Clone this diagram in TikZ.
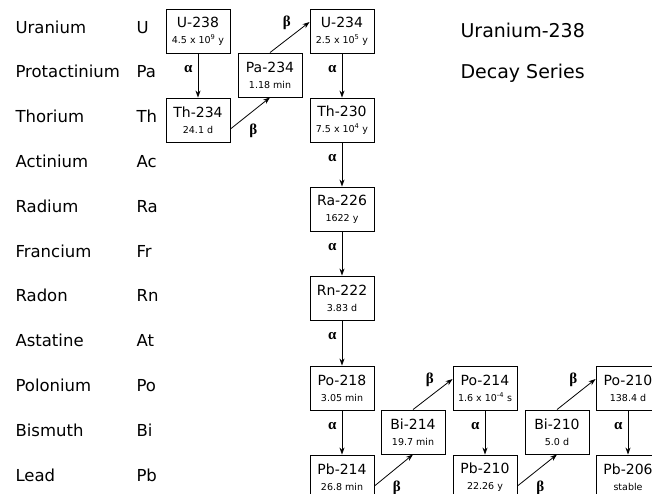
\documentclass[tikz,border=0pt]{standalone}
\usepackage{fontspec}
\setmainfont{DejaVu Sans}
\newfontfamily\greekfont{Liberation Serif}
\usetikzlibrary{arrows.meta, calc}
\newcommand\isoname{\fontsize{14}{15}\selectfont}
\newcommand\isolife{\fontsize{9.5}{10}\selectfont}
\newcommand\iso[2]{{\isoname #1}\\[4pt]{\isolife #2}}
\newcommand\alp{{\greekfont\bfseries α}}
\newcommand\bet{{\greekfont\bfseries β}}
\tikzset{
  isobox/.style={draw, line width=0.9pt, minimum width=64pt, minimum height=44pt,
                 inner sep=0pt, align=center},
  decay/.style={-{Stealth[length=7pt, width=5pt]}, line width=0.8pt},
  greek/.style={font=\fontsize{15}{15}\selectfont, inner sep=2pt},
  elname/.style={anchor=base west, font=\fontsize{16.5}{18}\selectfont},
}

\begin{document}
\begin{tikzpicture}[x=1pt, y=-1pt]
    \useasboundingbox (0,0) rectangle (652,493);

    % ─── Element column (left) ─────────────────────────────────────────
    \foreach \nm/\sym [count=\k from 0] in {Uranium/U, Protactinium/Pa, Thorium/Th,
        Actinium/Ac, Radium/Ra, Francium/Fr, Radon/Rn, Astatine/At, Polonium/Po,
        Bismuth/Bi, Lead/Pb}{
      \node[elname] (el\k)  at (12,  {33+44.8*\k}) {\nm};
      \node[elname] (sym\k) at (133, {33+44.8*\k}) {\sym};
    }

    % ─── Title ─────────────────────────────────────────────────────────
    \node[anchor=base west, font=\fontsize{19}{20}\selectfont] (title1) at (457, 37) {Uranium-238};
    \node[anchor=base west, font=\fontsize{19}{20}\selectfont] (title2) at (457, 78) {Decay Series};

    % ─── Isotopes ──────────────────────────────────────────────────────
    \node[isobox] (u238)  at (198, 31)  {\iso{U-238}{4.5 x 10\textsuperscript{9} y}};
    \node[isobox] (pa234) at (270, 75)  {\iso{Pa-234}{1.18 min}};
    \node[isobox] (th234) at (198, 120) {\iso{Th-234}{24.1 d}};
    \node[isobox] (u234)  at (342, 31)  {\iso{U-234}{2.5 x 10\textsuperscript{5} y}};
    \node[isobox] (th230) at (342, 120) {\iso{Th-230}{7.5 x 10\textsuperscript{4} y}};
    \node[isobox] (ra226) at (342, 209) {\iso{Ra-226}{1622 y}};
    \node[isobox] (rn222) at (342, 298) {\iso{Rn-222}{3.83 d}};
    \node[isobox] (po218) at (342, 388) {\iso{Po-218}{3.05 min}};
    \node[isobox] (pb214) at (342, 477) {\iso{Pb-214}{26.8 min}};
    \node[isobox] (bi214) at (413, 432) {\iso{Bi-214}{19.7 min}};
    \node[isobox] (po214) at (485, 388) {\iso{Po-214}{1.6 x 10\textsuperscript{-4} s}};
    \node[isobox] (pb210) at (485, 477) {\iso{Pb-210}{22.26 y}};
    \node[isobox] (bi210) at (557, 432) {\iso{Bi-210}{5.0 d}};
    \node[isobox] (po210) at (628, 388) {\iso{Po-210}{138.4 d}};
    \node[isobox] (pb206) at (628, 477) {\iso{Pb-206}{stable}};

    % ─── Alpha decays ──────────────────────────────────────────────────
    \draw[decay] (u238)  -- node[greek, left=3pt, pos=0.35] {\alp} (th234);
    \draw[decay] (u234)  -- node[greek, left=3pt, pos=0.35] {\alp} (th230);
    \draw[decay] (th230) -- node[greek, left=3pt, pos=0.35] {\alp} (ra226);
    \draw[decay] (ra226) -- node[greek, left=3pt, pos=0.35] {\alp} (rn222);
    \draw[decay] (rn222) -- node[greek, left=3pt, pos=0.35] {\alp} (po218);
    \draw[decay] (po218) -- node[greek, left=3pt, pos=0.35] {\alp} (pb214);
    \draw[decay] (po214) -- node[greek, left=3pt, pos=0.35] {\alp} (pb210);
    \draw[decay] (po210) -- node[greek, left=3pt, pos=0.35] {\alp} (pb206);

    % ─── Beta decays ───────────────────────────────────────────────────
    \draw[decay] ([yshift=-9pt]th234.east) -- node[greek, below=8pt, xshift=3pt] {\bet} (pa234.south);
    \draw[decay] (pa234.north) -- node[greek, above=5pt, xshift=-3pt] {\bet} ([yshift=9pt]u234.west);
    \draw[decay] ([yshift=-9pt]pb214.east) -- node[greek, below=8pt, xshift=3pt] {\bet} (bi214.south);
    \draw[decay] (bi214.north) -- node[greek, above=5pt, xshift=-3pt] {\bet} ([yshift=9pt]po214.west);
    \draw[decay] ([yshift=-9pt]pb210.east) -- node[greek, below=8pt, xshift=3pt] {\bet} (bi210.south);
    \draw[decay] (bi210.north) -- node[greek, above=5pt, xshift=-3pt] {\bet} ([yshift=9pt]po210.west);

\end{tikzpicture}
\end{document}
